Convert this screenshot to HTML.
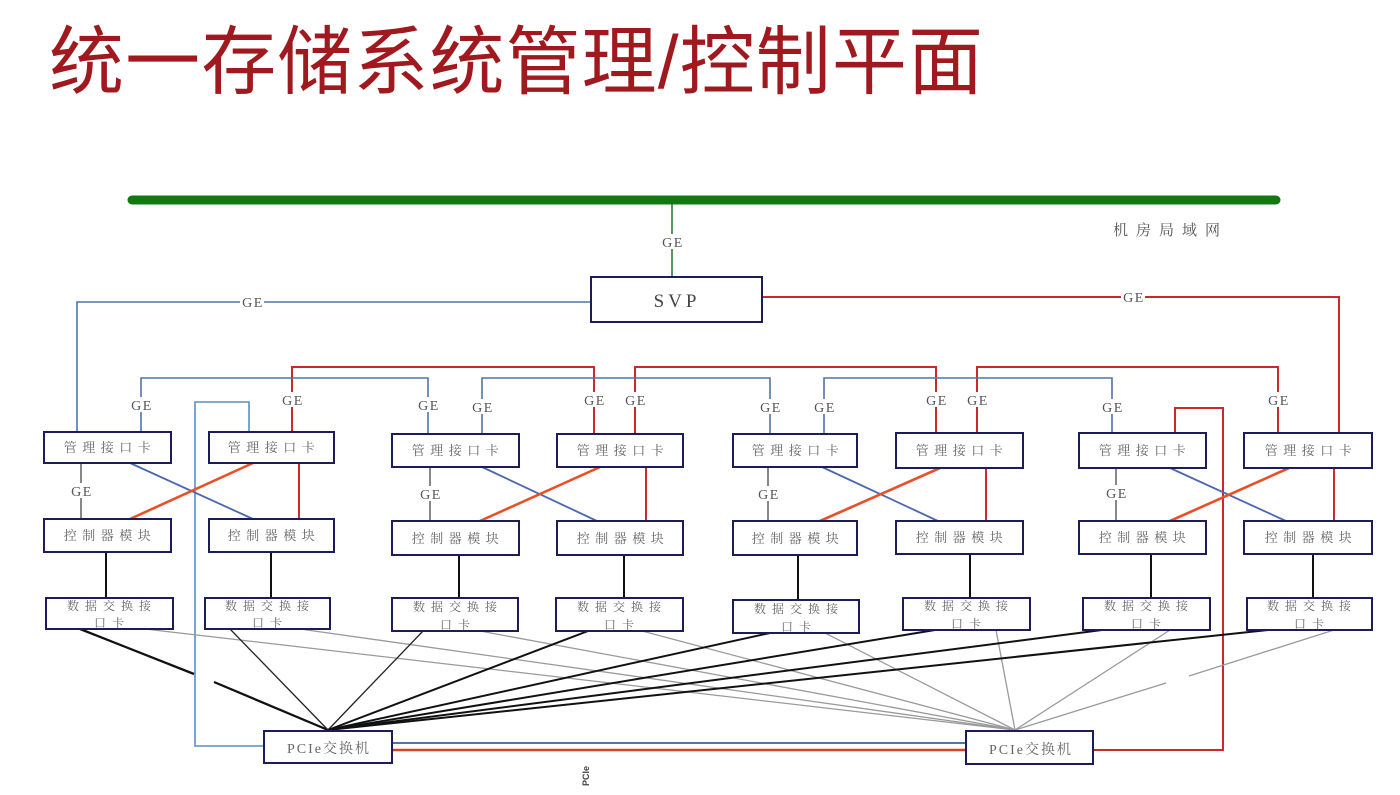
<!DOCTYPE html>
<html>
<head>
<meta charset="utf-8">
<style>
html,body{margin:0;padding:0;background:#fff;}
svg{display:block;}
.t{font-family:"Liberation Serif","Noto Serif CJK SC",serif;fill:#666;}
.ge{font-family:"Liberation Serif",serif;font-size:14px;fill:#555;letter-spacing:1.5px;text-anchor:middle;}
.card{fill:#fff;stroke:#1c1c5a;stroke-width:2;}
.bl{stroke:#4f76a8;stroke-width:1.6;fill:none;}
.rd{stroke:#cc2a2a;stroke-width:2;fill:none;}
.gy{stroke:#555;stroke-width:1.4;fill:none;}
.bd{stroke:#4a68b0;stroke-width:1.8;}
.od{stroke:#e8502a;stroke-width:2.6;}
.k{stroke:#111;stroke-width:2;}
.kt{stroke:#222;stroke-width:1.3;}
.g{stroke:#9a9a9a;stroke-width:1.3;}
</style>
</head>
<body>
<svg width="1400" height="795" viewBox="0 0 1400 795" xmlns="http://www.w3.org/2000/svg">
<rect width="1400" height="795" fill="#fff"/>

<!-- Title -->
<text x="49" y="88" font-family="'Liberation Sans','Noto Sans CJK SC',sans-serif" font-size="75" fill="#a0191e" textLength="934" lengthAdjust="spacing">统一存储系统管理/控制平面</text>

<!-- Green LAN bar -->
<line x1="132" y1="200" x2="1276" y2="200" stroke="#127812" stroke-width="9" stroke-linecap="round"/>
<line x1="672" y1="204" x2="672" y2="278" stroke="#2e7d32" stroke-width="1.6"/>
<text x="1113" y="235" font-family="'Liberation Serif','Noto Serif CJK SC',serif" font-size="15" fill="#555" letter-spacing="8">机房局域网</text>

<!-- SVP connections -->
<polyline class="bl" points="591,302 77,302 77,432"/>
<polyline class="rd" points="762,297 1339,297 1339,433"/>

<!-- Top buses red -->
<polyline class="rd" points="292,432 292,367 594,367 594,434"/>
<polyline class="rd" points="635,434 635,367 936,367 936,433"/>
<polyline class="rd" points="977,433 977,367 1278,367 1278,433"/>
<!-- Top buses blue -->
<polyline class="bl" points="141,432 141,378 428,378 428,434"/>
<polyline class="bl" points="482,434 482,378 770,378 770,434"/>
<polyline class="bl" points="824,434 824,378 1112,378 1112,433"/>

<!-- Blue loop -->
<polyline points="249,432 249,402 195,402 195,746 264,746" fill="none" stroke="#5a8fc0" stroke-width="1.6"/>
<!-- Red loop -->
<polyline class="rd" points="1175,433 1175,408 1223,408 1223,750 1093,750"/>

<!-- PCIe interconnect -->
<line x1="392" y1="743" x2="966" y2="743" stroke="#4f76a8" stroke-width="2"/>
<line x1="392" y1="750" x2="966" y2="750" stroke="#d0452a" stroke-width="2.5"/>

<!-- mgmt -> ctrl gray verticals -->
<line class="gy" x1="81" y1="463" x2="81" y2="519"/>
<line class="gy" x1="430" y1="467" x2="430" y2="521"/>
<line class="gy" x1="768" y1="467" x2="768" y2="521"/>
<line class="gy" x1="1116" y1="468" x2="1116" y2="521"/>
<!-- red verticals -->
<line class="rd" x1="299" y1="463" x2="299" y2="519"/>
<line class="rd" x1="646" y1="467" x2="646" y2="521"/>
<line class="rd" x1="986" y1="468" x2="986" y2="521"/>
<line class="rd" x1="1334" y1="468" x2="1334" y2="521"/>
<!-- blue diagonals -->
<line class="bd" x1="130" y1="463" x2="253" y2="519"/>
<line class="bd" x1="482" y1="467" x2="597" y2="521"/>
<line class="bd" x1="822" y1="467" x2="938" y2="521"/>
<line class="bd" x1="1170" y1="468" x2="1286" y2="521"/>
<!-- orange diagonals -->
<line class="od" x1="253" y1="463" x2="130" y2="519"/>
<line class="od" x1="600" y1="467" x2="480" y2="521"/>
<line class="od" x1="940" y1="468" x2="820" y2="521"/>
<line class="od" x1="1289" y1="468" x2="1170" y2="521"/>

<!-- ctrl -> data black verticals -->
<line class="k" x1="106" y1="552" x2="106" y2="598"/>
<line class="k" x1="271" y1="552" x2="271" y2="598"/>
<line class="k" x1="459" y1="555" x2="459" y2="598"/>
<line class="k" x1="624" y1="555" x2="624" y2="598"/>
<line class="k" x1="798" y1="555" x2="798" y2="600"/>
<line class="k" x1="970" y1="554" x2="970" y2="598"/>
<line class="k" x1="1151" y1="554" x2="1151" y2="598"/>
<line class="k" x1="1313" y1="554" x2="1313" y2="598"/>

<!-- gray fan to PCIe 2 -->
<line class="g" x1="145" y1="629" x2="1015" y2="730"/>
<line class="g" x1="300" y1="629" x2="1015" y2="730"/>
<line class="g" x1="480" y1="631" x2="1015" y2="730"/>
<line class="g" x1="642" y1="631" x2="1015" y2="730"/>
<line class="g" x1="825" y1="633" x2="1015" y2="730"/>
<line class="g" x1="996" y1="630" x2="1015" y2="730"/>
<line class="g" x1="1170" y1="630" x2="1015" y2="730"/>
<line class="g" x1="1334" y1="630" x2="1189" y2="676"/>
<line class="g" x1="1166" y1="683" x2="1015" y2="730"/>

<!-- black fan to PCIe 1 -->
<line stroke="#111" stroke-width="2.3" x1="80" y1="629" x2="194" y2="674"/>
<line stroke="#111" stroke-width="2.3" x1="214" y1="682" x2="328" y2="730"/>
<line class="kt" x1="230" y1="629" x2="328" y2="730"/>
<line class="kt" x1="423" y1="631" x2="328" y2="730"/>
<line class="k" x1="588" y1="631" x2="328" y2="730"/>
<line class="k" x1="770" y1="633" x2="328" y2="730"/>
<line class="k" x1="935" y1="630" x2="328" y2="730"/>
<line class="k" x1="1102" y1="630" x2="328" y2="730"/>
<line class="k" x1="1268" y1="630" x2="328" y2="730"/>

<!-- SVP box -->
<rect class="card" x="591" y="277" width="171" height="45"/>
<text x="677" y="307" text-anchor="middle" font-family="'Liberation Serif',serif" font-size="19" fill="#444" letter-spacing="4">SVP</text>

<!-- Management cards -->
<g>
<rect class="card" x="44" y="432" width="127" height="31"/>
<rect class="card" x="209" y="432" width="125" height="31"/>
<rect class="card" x="392" y="434" width="127" height="33"/>
<rect class="card" x="557" y="434" width="126" height="33"/>
<rect class="card" x="733" y="434" width="124" height="33"/>
<rect class="card" x="896" y="433" width="127" height="35"/>
<rect class="card" x="1079" y="433" width="127" height="35"/>
<rect class="card" x="1244" y="433" width="128" height="35"/>
</g>
<g class="t" font-size="13" letter-spacing="5.5" text-anchor="middle">
<text x="110" y="452">管理接口卡</text>
<text x="274" y="452">管理接口卡</text>
<text x="458" y="455">管理接口卡</text>
<text x="623" y="455">管理接口卡</text>
<text x="798" y="455">管理接口卡</text>
<text x="962" y="455">管理接口卡</text>
<text x="1145" y="455">管理接口卡</text>
<text x="1311" y="455">管理接口卡</text>
</g>

<!-- Controller cards -->
<g>
<rect class="card" x="44" y="519" width="127" height="33"/>
<rect class="card" x="209" y="519" width="125" height="33"/>
<rect class="card" x="392" y="521" width="127" height="34"/>
<rect class="card" x="557" y="521" width="126" height="34"/>
<rect class="card" x="733" y="521" width="124" height="34"/>
<rect class="card" x="896" y="521" width="127" height="33"/>
<rect class="card" x="1079" y="521" width="127" height="33"/>
<rect class="card" x="1244" y="521" width="128" height="33"/>
</g>
<g class="t" font-size="13" letter-spacing="5.5" text-anchor="middle">
<text x="110" y="540">控制器模块</text>
<text x="274" y="540">控制器模块</text>
<text x="458" y="543">控制器模块</text>
<text x="623" y="543">控制器模块</text>
<text x="798" y="543">控制器模块</text>
<text x="962" y="542">控制器模块</text>
<text x="1145" y="542">控制器模块</text>
<text x="1311" y="542">控制器模块</text>
</g>

<!-- Data exchange cards -->
<g>
<rect class="card" x="46" y="598" width="127" height="31"/>
<rect class="card" x="205" y="598" width="125" height="31"/>
<rect class="card" x="392" y="598" width="126" height="33"/>
<rect class="card" x="556" y="598" width="127" height="33"/>
<rect class="card" x="733" y="600" width="126" height="33"/>
<rect class="card" x="903" y="598" width="127" height="32"/>
<rect class="card" x="1083" y="598" width="127" height="32"/>
<rect class="card" x="1247" y="598" width="125" height="32"/>
</g>
<g class="t" font-size="12" letter-spacing="6" text-anchor="middle">
<text x="112" y="610">数据交换接</text><text x="112" y="627">口卡</text>
<text x="270" y="610">数据交换接</text><text x="270" y="627">口卡</text>
<text x="458" y="611">数据交换接</text><text x="458" y="629">口卡</text>
<text x="622" y="611">数据交换接</text><text x="622" y="629">口卡</text>
<text x="799" y="613">数据交换接</text><text x="799" y="631">口卡</text>
<text x="969" y="610">数据交换接</text><text x="969" y="628">口卡</text>
<text x="1149" y="610">数据交换接</text><text x="1149" y="628">口卡</text>
<text x="1312" y="610">数据交换接</text><text x="1312" y="628">口卡</text>
</g>

<!-- PCIe switches -->
<rect class="card" x="264" y="731" width="128" height="32"/>
<rect class="card" x="966" y="731" width="127" height="33"/>
<g class="t" font-size="14" letter-spacing="2" text-anchor="middle" fill="#555">
<text x="329" y="753">PCIe交换机</text>
<text x="1031" y="754">PCIe交换机</text>
</g>

<!-- tiny rotated label -->
<text x="0" y="0" transform="translate(589,786) rotate(-90)" font-family="'Liberation Sans',sans-serif" font-size="9" font-weight="bold" fill="#444">PCIe</text>

<!-- GE labels -->
<g>
<rect x="661" y="234" width="22" height="15" fill="#fff"/>
<text class="ge" x="673" y="247">GE</text>
<rect x="240" y="294" width="24" height="15" fill="#fff"/>
<text class="ge" x="253" y="307">GE</text>
<rect x="1121" y="290" width="24" height="15" fill="#fff"/>
<text class="ge" x="1134" y="302">GE</text>

<rect x="281" y="392" width="22" height="15" fill="#fff"/><text class="ge" x="293" y="405">GE</text>
<rect x="583" y="392" width="22" height="15" fill="#fff"/><text class="ge" x="595" y="405">GE</text>
<rect x="624" y="392" width="22" height="15" fill="#fff"/><text class="ge" x="636" y="405">GE</text>
<rect x="925" y="392" width="22" height="15" fill="#fff"/><text class="ge" x="937" y="405">GE</text>
<rect x="966" y="392" width="22" height="15" fill="#fff"/><text class="ge" x="978" y="405">GE</text>
<rect x="1267" y="392" width="22" height="15" fill="#fff"/><text class="ge" x="1279" y="405">GE</text>

<rect x="130" y="397" width="22" height="15" fill="#fff"/><text class="ge" x="142" y="410">GE</text>
<rect x="417" y="397" width="22" height="15" fill="#fff"/><text class="ge" x="429" y="410">GE</text>
<rect x="471" y="399" width="22" height="15" fill="#fff"/><text class="ge" x="483" y="412">GE</text>
<rect x="759" y="399" width="22" height="15" fill="#fff"/><text class="ge" x="771" y="412">GE</text>
<rect x="813" y="399" width="22" height="15" fill="#fff"/><text class="ge" x="825" y="412">GE</text>
<rect x="1101" y="399" width="22" height="15" fill="#fff"/><text class="ge" x="1113" y="412">GE</text>

<rect x="70" y="483" width="22" height="15" fill="#fff"/><text class="ge" x="82" y="496">GE</text>
<rect x="419" y="486" width="22" height="15" fill="#fff"/><text class="ge" x="431" y="499">GE</text>
<rect x="757" y="486" width="22" height="15" fill="#fff"/><text class="ge" x="769" y="499">GE</text>
<rect x="1105" y="485" width="22" height="15" fill="#fff"/><text class="ge" x="1117" y="498">GE</text>
</g>
</svg>
</body>
</html>
